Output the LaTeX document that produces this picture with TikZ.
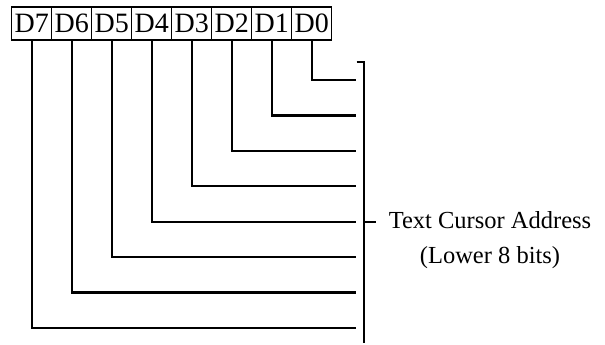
\documentclass[tikz,border=0pt]{standalone}
\usepackage{fontspec}
\setmainfont{Liberation Serif}
\begin{document}
\begin{tikzpicture}[x=1pt,y=-1pt,
  bitbox/.style={draw,line width=1.4pt,minimum width=40pt,minimum height=33pt,inner sep=0pt,font=\fontsize{28}{30}\selectfont},
  wire/.style={line width=2.2pt},
  lbl/.style={align=center,font=\fontsize{24.5}{35}\selectfont,inner sep=0pt}]
\useasboundingbox (0,0) rectangle (605,345);
\foreach \n [count=\k from 0] in {7,6,5,4,3,2,1,0} {
  \node[bitbox] (d\n) at ({31.7+40*\k},23.5) {D\n};
}
\foreach \n in {0,...,7} {
  \coordinate (e\n) at (356,{80+35.43*\n});
  \draw[wire] (d\n.south) |- (e\n);
}
\coordinate (bt) at (356.7,62);
\coordinate (bc) at (364,62);
\coordinate (bb) at (364,343);
\coordinate (bm) at (364,221.7);
\coordinate (bmt) at (376,221.7);
\draw[wire] (bt) -- (bc) -- (bb);
\draw[wire] (bm) -- (bmt);
\node[lbl] (t) at (490,240) {Text Cursor Address\\(Lower 8 bits)};
\end{tikzpicture}
\end{document}
